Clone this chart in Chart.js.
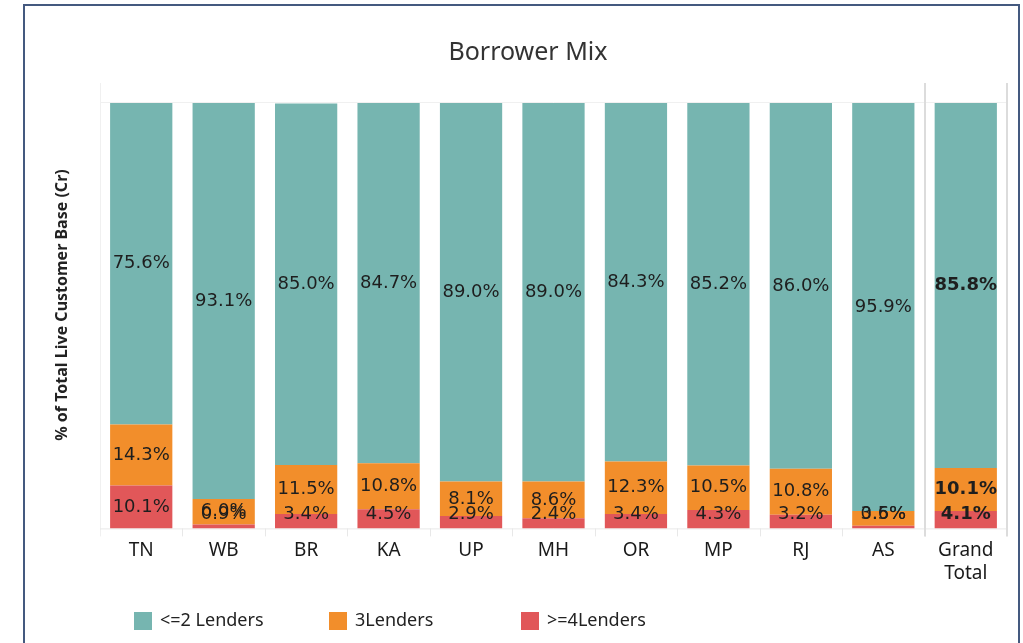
<!DOCTYPE html>
<html>
<head>
<meta charset="utf-8">
<script src="https://cdn.jsdelivr.net/npm/chart.js@4"></script>
<style>
  html, body { margin:0; padding:0; background:#fff; }
  #wrap { width:1023px; height:643px; }
</style>
</head>
<body>
<div id="wrap"><canvas id="chart1" width="1023" height="643"></canvas></div>
<script>
let states = ["TN","WB","BR","KA","UP","MH","OR","MP","RJ","AS",["Grand","Total"]];
let upto2 = [75.6,93.1,85.0,84.7,89.0,89.0,84.3,85.2,86.0,95.9,85.8];
let three = [14.3,6.0,11.5,10.8,8.1,8.6,12.3,10.5,10.8,3.5,10.1];
let four  = [10.1,0.9,3.4,4.5,2.9,2.4,3.4,4.3,3.2,0.6,4.1];
let seriesNames = ["<=2 Lenders","3Lenders",">=4Lenders"];
let colors = ["#76b5b0","#f28e2b","#e15759"];

let decor = {
  id:"decor",
  beforeDatasetsDraw(chart){
    let c = chart.ctx, x = chart.scales.x, y = chart.scales.y;
    let n = states.length;
    let step = x.getPixelForValue(1) - x.getPixelForValue(0);
    let left = x.getPixelForValue(0) - step/2;
    let right = x.getPixelForValue(n-1) + step/2;
    let top = y.getPixelForValue(100), bot = y.getPixelForValue(0);
    c.save();
    c.lineWidth = 1;
    c.strokeStyle = "#f0f0f0";
    c.beginPath(); c.moveTo(left, top-0.5); c.lineTo(right, top-0.5); c.stroke();
    c.beginPath(); c.moveTo(left+0.5, top-20); c.lineTo(left+0.5, bot+8); c.stroke();
    c.strokeStyle = "#e8e8e8";
    c.beginPath(); c.moveTo(left, bot+0.5); c.lineTo(right, bot+0.5); c.stroke();
    for(let i=1;i<n;i++){
      let gx = Math.round(left + step*i) + 0.5;
      c.beginPath(); c.moveTo(gx, bot); c.lineTo(gx, bot+8); c.stroke();
    }
    c.strokeStyle = "#dcdcdc"; c.lineWidth = 2;
    let sep = Math.round(left + step*(n-1));
    c.beginPath(); c.moveTo(sep, top-20); c.lineTo(sep, bot+8); c.stroke();
    c.beginPath(); c.moveTo(Math.round(right), top-20); c.lineTo(Math.round(right), bot+8); c.stroke();
    c.restore();
  },
  afterDraw(chart){
    let c = chart.ctx;
    let floor = chart.scales.y.getPixelForValue(0) - 14;
    c.save();
    // segment labels, kept inside the bar bottom like the original
    chart.data.datasets.forEach((ds,di)=>{
      let meta = chart.getDatasetMeta(di);
      meta.data.forEach((bar,i)=>{
        let isTotal = i === states.length-1;
        c.font = (isTotal ? "bold " : "") + "18px 'DejaVu Sans'";
        c.fillStyle = "#1e1e1e";
        c.textAlign = "center"; c.textBaseline = "middle";
        let ly = Math.min((bar.y+bar.base)/2, floor);
        c.fillText(ds.data[i].toFixed(1)+"%", bar.x, ly);
      });
    });
    // title
    c.fillStyle = "#333";
    c.font = "25px 'Noto Sans'";
    c.textAlign = "center"; c.textBaseline = "middle";
    c.fillText("Borrower Mix", 528, 53);
    // y axis title
    c.save();
    c.translate(62, 305);
    c.rotate(-Math.PI/2);
    c.font = "bold 16px 'Noto Sans'";
    c.fillStyle = "#222";
    c.fillText("% of Total Live Customer Base (Cr)", 0, 0);
    c.restore();
    // legend
    let lx = [134, 329, 521];
    c.font = "18px 'Noto Sans'";
    c.textAlign = "left";
    seriesNames.forEach((s,i)=>{
      c.fillStyle = colors[i];
      c.fillRect(lx[i], 612, 18, 18);
      c.fillStyle = "#222";
      c.fillText(s, lx[i]+26, 621);
    });
    // frame
    c.strokeStyle = "#44597f"; c.lineWidth = 2;
    c.beginPath(); c.moveTo(24, 650); c.lineTo(24, 5); c.lineTo(1019, 5); c.lineTo(1019, 650); c.stroke();
    c.restore();
  }
};

let chart1 = new Chart(document.getElementById("chart1"),{
  type:"bar",
  data:{
    labels:states,
    datasets:[
      {label:seriesNames[2], data:four, backgroundColor:colors[2]},
      {label:seriesNames[1], data:three, backgroundColor:colors[1]},
      {label:seriesNames[0], data:upto2, backgroundColor:colors[0]}
    ]
  },
  options:{
    responsive:false,
    animation:false,
    layout:{padding:{left:100, right:16, top:103, bottom:55}},
    datasets:{bar:{categoryPercentage:1, barPercentage:0.755}},
    plugins:{legend:{display:false}, tooltip:{enabled:false}},
    scales:{
      x:{stacked:true, grid:{display:false}, border:{display:false},
         ticks:{color:"#1a1a1a", padding:3, font:{family:"Noto Sans", size:19}, maxRotation:0, autoSkip:false}},
      y:{stacked:true, display:false, min:0, max:100}
    }
  },
  plugins:[decor]
});
</script>
</body>
</html>
